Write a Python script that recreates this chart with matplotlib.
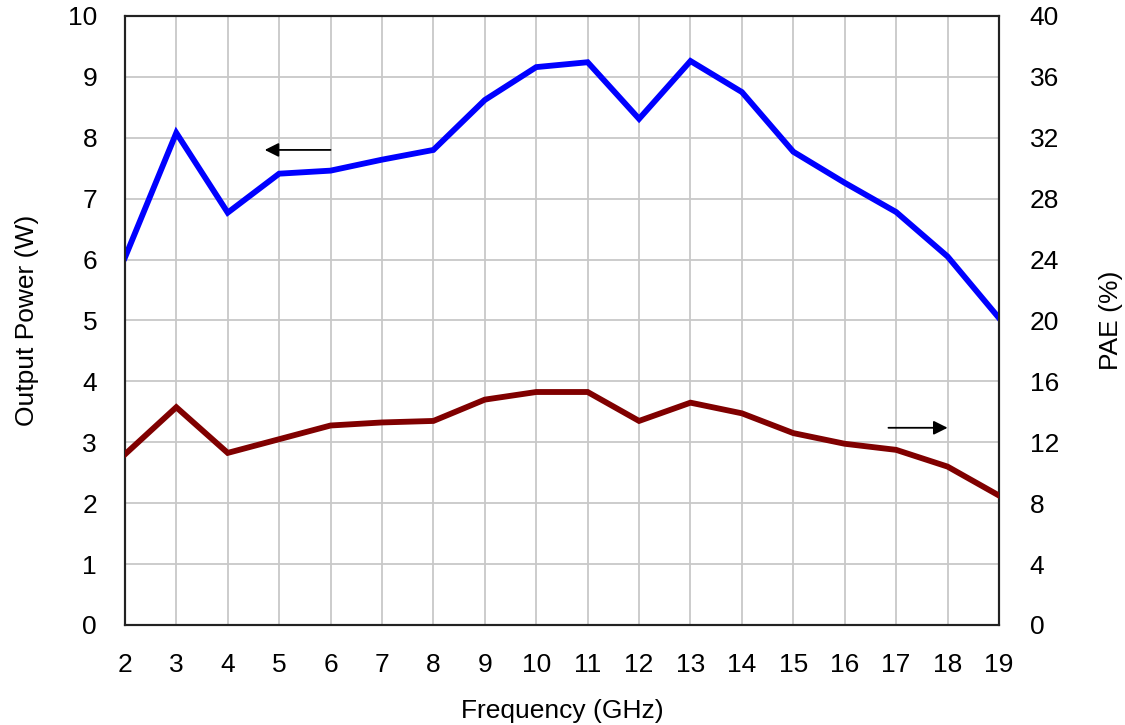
import matplotlib
matplotlib.use("Agg")
import matplotlib.pyplot as plt

# Frequency sweep (GHz)
freq = [2, 3, 4, 5, 6, 7, 8, 9, 10, 11, 12, 13, 14, 15, 16, 17, 18, 19]
# Output power (W), left axis
pout = [6.03, 8.08, 6.77, 7.41, 7.46, 7.64, 7.80, 8.62, 9.16, 9.24,
        8.31, 9.26, 8.75, 7.77, 7.26, 6.78, 6.05, 5.04]
# PAE (%), right axis
pae = [11.2, 14.3, 11.3, 12.2, 13.1, 13.3, 13.4, 14.8, 15.3, 15.3,
       13.4, 14.6, 13.9, 12.6, 11.9, 11.5, 10.4, 8.5]

plt.rcParams['font.family'] = ['Liberation Sans', 'DejaVu Sans']
plt.rcParams['font.size'] = 19

fig, ax = plt.subplots(figsize=(11.25, 7.25), dpi=100)
fig.subplots_adjust(left=0.111, right=0.888, top=0.978, bottom=0.138)
ax2 = ax.twinx()

ax.plot(freq, pout, color='#0000ff', lw=4.2, solid_joinstyle='miter', zorder=3)
ax2.plot(freq, pae, color='#800000', lw=4.2, solid_joinstyle='miter', zorder=3)

ax.set_xlim(2, 19)
ax.set_ylim(0, 10)
ax2.set_ylim(0, 40)
ax.set_xticks(freq)
ax.set_yticks(range(0, 11))
ax2.set_yticks(range(0, 41, 4))

ax.grid(True, color='#c8c8c8', lw=1.3)
ax.set_axisbelow(True)

ax.tick_params(axis='both', length=0, pad=20)
ax2.tick_params(axis='y', length=0, pad=22)

for a in (ax, ax2):
    for s in a.spines.values():
        s.set_color('#222222')
        s.set_linewidth(1.5)

ax.set_xlabel('Frequency (GHz)', labelpad=16)
ax.set_ylabel('Output Power (W)', labelpad=21)
ax2.set_ylabel('PAE (%)', labelpad=29)

# direction arrows
ax.annotate('', xy=(4.72, 7.8), xytext=(6.0, 7.8),
            arrowprops=dict(arrowstyle='-|>', color='black', lw=1.3,
                            mutation_scale=21, shrinkA=0, shrinkB=0))
ax2.annotate('', xy=(18.0, 12.95), xytext=(16.85, 12.95),
             arrowprops=dict(arrowstyle='-|>', color='black', lw=1.3,
                             mutation_scale=21, shrinkA=0, shrinkB=0))

fig.savefig('out.png')
